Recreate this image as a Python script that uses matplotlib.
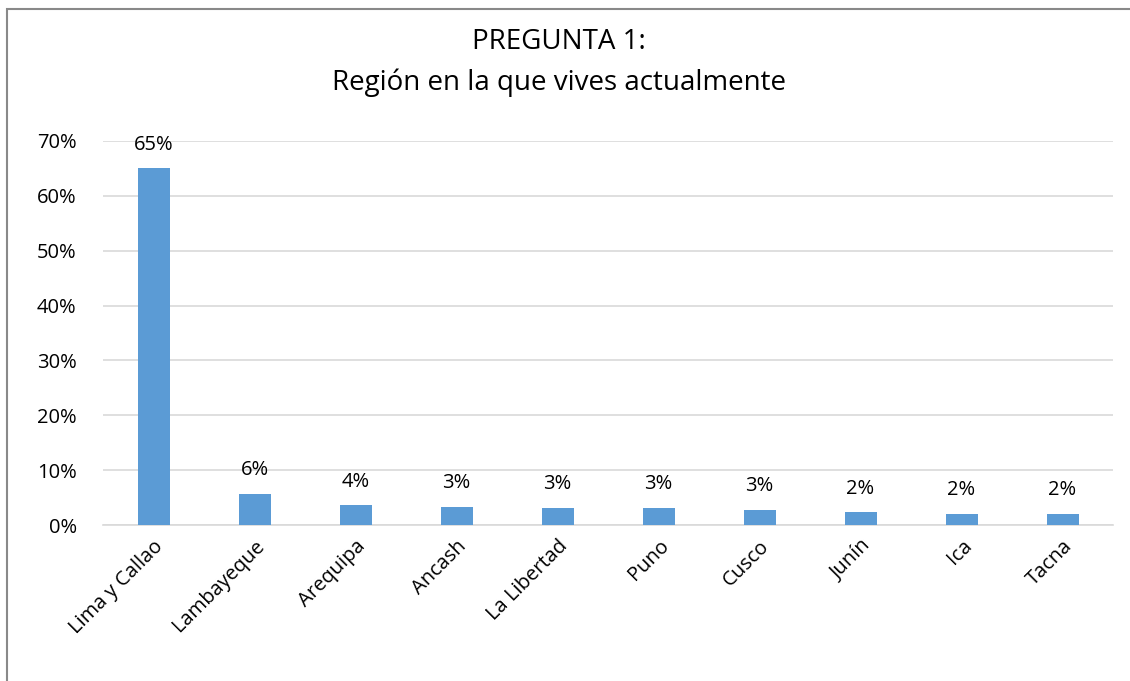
import matplotlib.pyplot as plt
from matplotlib.patches import Rectangle
import numpy as np

regiones = ['Lima y Callao', 'Lambayeque', 'Arequipa', 'Ancash', 'La Libertad',
            'Puno', 'Cusco', 'Junín', 'Ica', 'Tacna']
porcentajes = [0.650, 0.057, 0.036, 0.033, 0.031, 0.031, 0.028, 0.023, 0.021, 0.021]
yticks = [0, 0.1, 0.2, 0.3, 0.4, 0.5, 0.6, 0.7]

plt.rcParams['font.family'] = ['Open Sans', 'DejaVu Sans']

fig = plt.figure(figsize=(11.3, 6.81), dpi=100)
ax = fig.add_axes([0.0912, 0.229, 0.8938, 0.564])

x = np.arange(len(regiones))
ax.bar(x, porcentajes, width=0.317, color='#5b9bd5', zorder=3)
for xi, v in zip(x, porcentajes):
    ax.text(xi, v + 0.025, '{:.0f}%'.format(v * 100), ha='center', va='bottom',
            fontsize=14.5, color='#000000')

ax.set_xlim(-0.5, len(regiones) - 0.5)
ax.set_ylim(0, 0.7)
ax.set_yticks(yticks)
ax.set_yticklabels(['{:.0f}%'.format(t * 100) for t in yticks], fontsize=14.5)
ax.set_xticks(x)
ax.set_xticklabels(regiones, rotation=45, ha='right', rotation_mode='anchor', fontsize=14.5)
ax.tick_params(axis='y', length=0, pad=19)
ax.tick_params(axis='x', length=0, pad=8)
ax.grid(axis='y', color='#d9d9d9', linewidth=1.2, zorder=0)
for s in ['top', 'right', 'left']:
    ax.spines[s].set_visible(False)
ax.spines['bottom'].set_color('#d9d9d9')
ax.spines['bottom'].set_linewidth(1.2)

fig.text(0.495, 1 - 49 / 681, 'PREGUNTA 1:', ha='center', va='baseline', fontsize=20)
fig.text(0.495, 1 - 90 / 681, 'Región en la que vives actualmente', ha='center',
         va='baseline', fontsize=20)

fig.patches.append(Rectangle((0.0062, -0.01), 1.0, 0.997, transform=fig.transFigure,
                             fill=False, edgecolor='#898989', linewidth=1.5))

plt.savefig('out.png', dpi=100)
